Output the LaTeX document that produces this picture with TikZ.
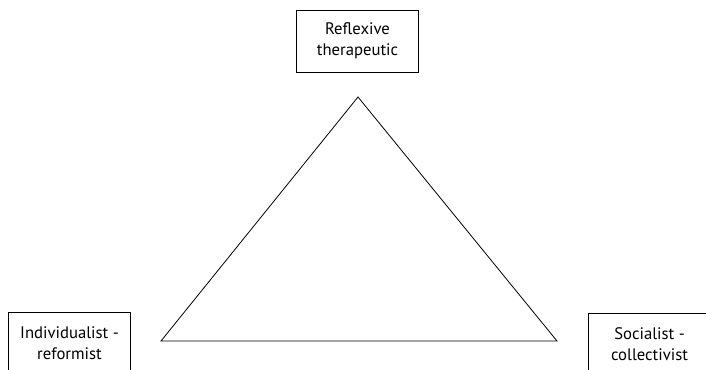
\documentclass[tikz,border=0pt]{standalone}
\usepackage{fontspec}
\setmainfont{PT Sans}
\usetikzlibrary{positioning, calc}

\begin{document}
\begin{tikzpicture}[
        x=0.75pt, y=-0.75pt, font=\fontsize{12.5}{15.5}\selectfont,
        pole/.style={draw, rectangle, line width=0.6pt, minimum width=92pt, minimum height=46.5pt, align=center, inner sep=0pt},
        side/.style={line width=0.6pt}
    ]
    \useasboundingbox (0,0) rectangle (706,369);
    \clip (0,0) rectangle (706,369);
    \node[pole] (reflexive) at (357.5,41) {Reflexive\\therapeutic};
    \node[pole] (individualist) at (69.5,343) {Individualist -\\reformist};
    \node[pole] (socialist) at (649.5,344) {Socialist -\\collectivist};

    \coordinate (apex) at (358,97);
    \coordinate (left) at (161,341);
    \coordinate (right) at (557,341);
    \draw[side] (apex) -- (left) -- (right) -- cycle;
\end{tikzpicture}
\end{document}
